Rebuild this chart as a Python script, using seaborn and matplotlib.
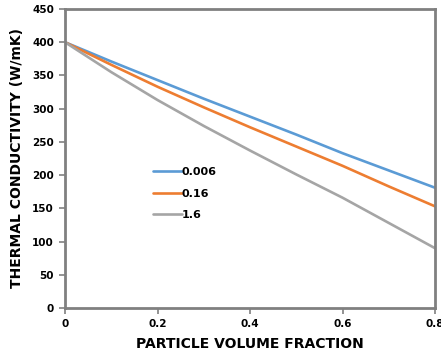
import matplotlib
matplotlib.use("Agg")
import matplotlib.pyplot as plt
import seaborn as sns
import pandas as pd

fraction = [0.0, 0.1, 0.2, 0.3, 0.4, 0.5, 0.6, 0.7, 0.8]
k_0006 = [400, 371, 343, 315, 288, 261, 233, 207, 181]
k_016 = [400, 366, 333, 302, 272, 243, 214, 183, 153]
k_16 = [400, 355, 313, 274, 237, 201, 166, 128, 90]
series_names = ["0.006", "0.16", "1.6"]
colors = ["#5B9BD5", "#ED7D31", "#A5A5A5"]
x_ticks = [0, 0.2, 0.4, 0.6, 0.8]
x_tick_labels = ["0", "0.2", "0.4", "0.6", "0.8"]
y_ticks = [0, 50, 100, 150, 200, 250, 300, 350, 400, 450]

rows = []
for name, vals in zip(series_names, [k_0006, k_016, k_16]):
    for f, v in zip(fraction, vals):
        rows.append({"fraction": f, "k": v, "series": name})
df = pd.DataFrame(rows)

sns.set_theme(style="white")
plt.rcParams["font.family"] = ["DejaVu Sans"]
plt.rcParams["text.color"] = "black"
plt.rcParams["axes.labelcolor"] = "black"
plt.rcParams["xtick.color"] = "black"
plt.rcParams["ytick.color"] = "black"

fig = plt.figure(figsize=(4.41, 3.58), dpi=100)
ax = fig.add_axes([0.1474, 0.1397, 0.839, 0.8352])
sns.lineplot(data=df, x="fraction", y="k", hue="series", palette=colors,
             hue_order=series_names, linewidth=1.9, ax=ax)

ax.set_xlim(0, 0.8)
ax.set_ylim(0, 450)
ax.set_xticks(x_ticks)
ax.set_xticklabels(x_tick_labels)
ax.set_yticks(y_ticks)
ax.set_xlabel("PARTICLE VOLUME FRACTION", fontsize=10, fontweight="bold", labelpad=6)
ax.set_ylabel("THERMAL CONDUCTIVITY (W/mK)", fontsize=10, fontweight="bold", labelpad=6)
for lab in ax.get_xticklabels() + ax.get_yticklabels():
    lab.set_fontsize(7.5)
    lab.set_fontweight("bold")
ax.tick_params(axis="both", direction="out", length=4, width=1.2, color="#808080",
               labelcolor="black", bottom=True, left=True, pad=4)
for sp in ax.spines.values():
    sp.set_color("#808080")
    sp.set_linewidth(2.0)

leg = ax.legend(loc="upper left", bbox_to_anchor=(0.21, 0.505), frameon=False,
                fontsize=8, handlelength=2.6, handletextpad=0.0, labelspacing=1.05)
for t in leg.get_texts():
    t.set_fontweight("bold")
    t.set_color("black")

fig.savefig("out.png", dpi=100)
